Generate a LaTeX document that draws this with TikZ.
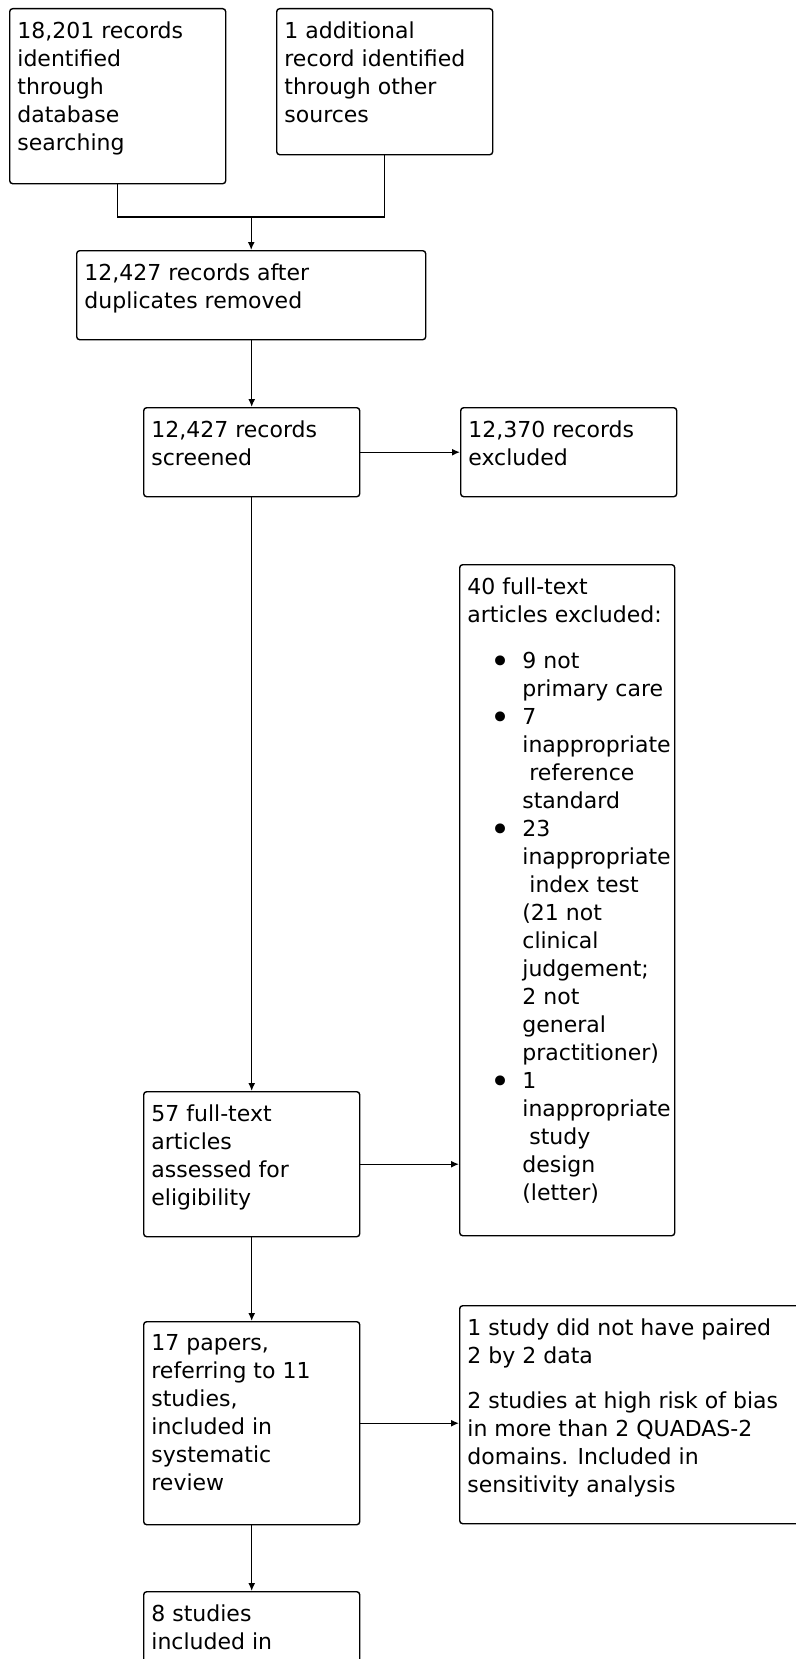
\documentclass[tikz,border=0pt]{standalone}
\usepackage{fontspec}
\setmainfont{DejaVu Sans}
\usetikzlibrary{arrows.meta}

% indents for the bullet list
\newcommand{\bul}{\hspace*{27.5pt}\llap{\raisebox{-2.4pt}{\fontsize{17}{14}\selectfont\textbullet}\hspace{6pt}}}
\newcommand{\ind}{\hspace*{27.5pt}}

\begin{document}
\begin{tikzpicture}[x=0.5pt, y=-0.5pt,
    box/.style={draw, rounded corners=1.5pt, anchor=north west, inner sep=0pt, line width=0.7pt},
    txt/.style={anchor=north west, align=left, inner xsep=4pt, inner ysep=6.6pt, font=\fontsize{11}{14}\selectfont},
    arr/.style={-{Latex[length=4pt,width=3.5pt]}, line width=0.7pt}]
  \useasboundingbox (0,0) rectangle (796,1659);
  \clip (0,0) rectangle (796,1659);

  % boxes
  \node[box, minimum width=108pt, minimum height=87.5pt] (db) at (9,8) {};
  \node[box, minimum width=108pt, minimum height=73pt] (other) at (276,8) {};
  \node[box, minimum width=174.5pt, minimum height=44.5pt] (dup) at (76,250) {};
  \node[box, minimum width=108pt, minimum height=44.5pt] (screen) at (143,407) {};
  \node[box, minimum width=108pt, minimum height=44.5pt] (excl) at (460,407) {};
  \node[box, minimum width=107.5pt, minimum height=335.5pt] (ftexcl) at (459,564) {};
  \node[box, minimum width=108pt, minimum height=72.5pt] (elig) at (143,1091) {};
  \node[box, minimum width=108pt, minimum height=101.5pt] (review) at (143,1321) {};
  \node[box, minimum width=172.5pt, minimum height=109pt] (excl2) at (459,1305) {};
  \node[box, minimum width=108pt, minimum height=60pt] (meta) at (143,1591) {};

  % texts
  \node[txt] (db-t) at (db.north west) {18,201 records\\identified\\through\\database\\searching};
  \node[txt] (other-t) at (other.north west) {1 additional\\record identified\\through other\\sources};
  \node[txt] (dup-t) at (dup.north west) {12,427 records after\\duplicates removed};
  \node[txt] (screen-t) at (screen.north west) {12,427 records\\screened};
  \node[txt] (excl-t) at (excl.north west) {12,370 records\\excluded};
  \node[txt] (ftexcl-t) at (ftexcl.north west) {40 full-text\\articles excluded:\\[9pt]
    \bul 9 not\\
    \ind primary care\\
    \bul 7\\
    \ind inappropriate\\
    \ind\ reference\\
    \ind standard\\
    \bul 23\\
    \ind inappropriate\\
    \ind\ index test\\
    \ind (21 not\\
    \ind clinical\\
    \ind judgement;\\
    \ind 2 not\\
    \ind general\\
    \ind practitioner)\\
    \bul 1\\
    \ind inappropriate\\
    \ind\ study\\
    \ind design\\
    \ind (letter)};
  \node[txt] (elig-t) at (elig.north west) {57 full-text\\articles\\assessed for\\eligibility};
  \node[txt] (review-t) at (review.north west) {17 papers,\\referring to 11\\studies,\\included in\\systematic\\review};
  \node[txt] (excl2-t) at (excl2.north west) {1 study did not have paired\\2 by 2 data\\[8.5pt]2 studies at high risk of bias\\in more than 2 QUADAS-2\\domains. Included in\\sensitivity analysis};
  \node[txt] (meta-t) at (meta.north west) {8 studies\\included in};

  % connectors
  \path (dup.north) ++(0,-33) coordinate (join);
  \draw[line width=0.7pt] (db.south) |- (join);
  \draw[line width=0.7pt] (other.south) |- (join);
  \draw[arr] (join) -- (dup.north);
  \draw[arr] (screen.north |- dup.south) -- (screen.north);
  \draw[arr] (screen.east) -- (excl.west);
  \draw[arr] (screen.south) -- (elig.north);
  \draw[arr] (elig.east) -- (elig.east -| ftexcl.west);
  \draw[arr] (elig.south) -- (review.north);
  \draw[arr] (review.east) -- (review.east -| excl2.west);
  \draw[arr] (review.south) -- (meta.north);
\end{tikzpicture}
\end{document}
